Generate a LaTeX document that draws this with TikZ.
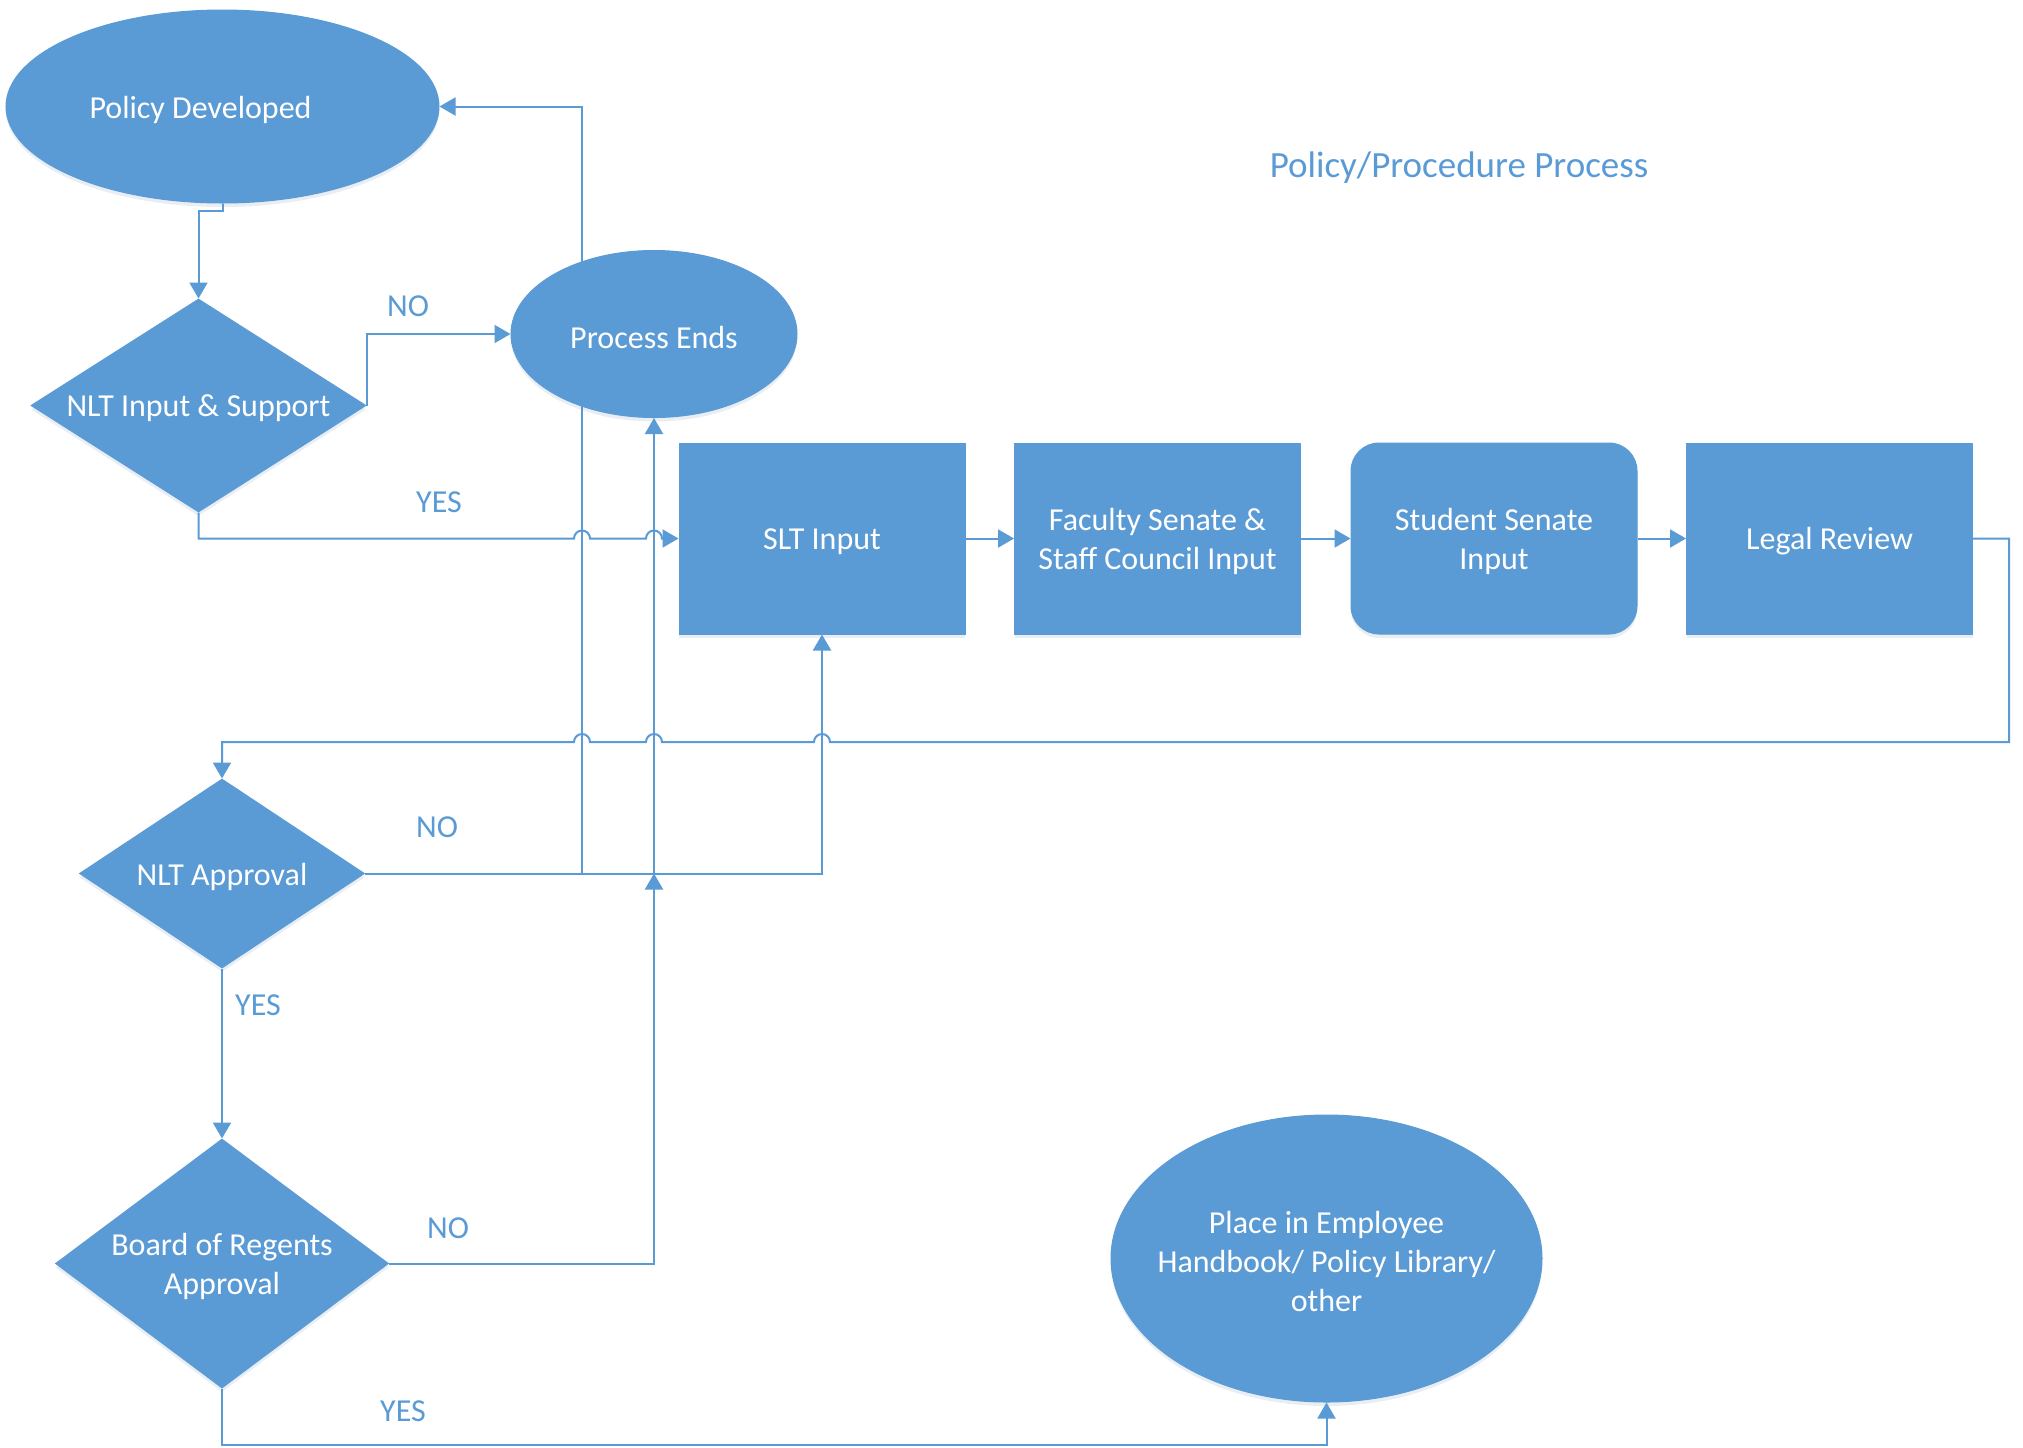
\documentclass[tikz,border=0pt]{standalone}
\usepackage{fontspec}
\setmainfont{Carlito}
\usetikzlibrary{shapes.geometric,arrows.meta,shadows,calc}
\definecolor{cblue}{RGB}{91,155,213}
\pgfdeclarelayer{back}
\pgfdeclarelayer{bg}
\pgfsetlayers{back,bg,main}
\begin{document}
\begin{tikzpicture}[x=0.5pt,y=-0.5pt,
  shp/.style={fill=cblue, draw=cblue, line width=0.5pt, inner sep=0pt,
    drop shadow={shadow xshift=0pt, shadow yshift=-2pt, opacity=0.15, fill=cblue!60!gray}},
  txt/.style={text=white, align=center, yshift=-1.5pt, font=\fontsize{16}{19.4}\selectfont},
  ell/.style={shp, ellipse},
  dia/.style={shp, diamond},
  box/.style={shp, rectangle, minimum width=143pt, minimum height=95.5pt},
  conn/.style={draw=cblue, line width=1pt, -{Triangle[length=8pt,width=9pt]}},
  lbl/.style={text=cblue, font=\fontsize{16}{19.4}\selectfont},
]
\begin{pgfonlayer}{back}
\fill[white] (0,0) rectangle (2023,1447);
\end{pgfonlayer}
\useasboundingbox (0,0) rectangle (2023,1447);

% shapes
\node[ell, minimum width=216.5pt, minimum height=96.5pt, label={[txt,xshift=-11pt]center:Policy Developed}] (pd) at (222.5,106.5) {};
\node[ell, minimum width=143pt, minimum height=83.5pt, label={[txt]center:Process Ends}] (pe) at (654,334) {};
\node[dia, minimum width=167.5pt, minimum height=106.5pt, label={[txt]center:NLT Input \& Support}] (nlt) at (198.5,405.5) {};
\node[box, label={[txt]center:SLT Input}] (slt) at (822,538.5) {};
\node[box, label={[txt]center:Faculty Senate \&\\Staff Council Input}] (fac) at (1157.5,538.5) {};
\node[box, rounded corners=14pt, label={[txt]center:Student Senate\\Input}] (ss) at (1494,538.5) {};
\node[box, label={[txt]center:Legal Review}] (lr) at (1829.5,538.5) {};
\node[dia, minimum width=142.5pt, minimum height=94.5pt, label={[txt]center:NLT Approval}] (na) at (222,873.5) {};
\node[dia, minimum width=166.5pt, minimum height=124.5pt, label={[txt]center:Board of Regents\\Approval}] (bor) at (222,1263.5) {};
\node[ell, minimum width=215.5pt, minimum height=143.5pt, label={[txt]center:Place in Employee\\Handbook/ Policy Library/\\other}] (pl) at (1326.5,1258.5) {};

% title and labels
\node[text=cblue, font=\fontsize{18.5}{22}\selectfont] (title) at (1459,168) {Policy/Procedure Process};
\node[lbl] (no1) at (408,306) {NO};
\node[lbl] (yes1) at (439,502) {YES};
\node[lbl] (no2) at (437,827) {NO};
\node[lbl] (yes2) at (258,1005) {YES};
\node[lbl] (no3) at (448,1228) {NO};
\node[lbl] (yes3) at (403,1411) {YES};

% connectors
\begin{pgfonlayer}{bg}
\coordinate (jA) at (582,106.5);
\coordinate (rc) at (2009,742);
\coordinate (yb) at (0,1445);
\draw[conn] (pd.south) -- ++(0,7) -| (nlt.north);
\draw[conn] (nlt.east) |- (pe.west);
\draw[conn] (nlt.south) |- ([xshift=-4pt]jA |- slt.west)
   arc[start angle=180,end angle=0,radius=4pt] -- ([xshift=-4pt]pe.south |- slt.west)
   arc[start angle=180,end angle=0,radius=4pt] -- (slt.west);
\draw[conn] (slt.east) -- (fac.west);
\draw[conn] (fac.east) -- (ss.west);
\draw[conn] (ss.east) -- (lr.west);
\draw[conn] (lr.east) -| (rc) -- ([xshift=4pt]slt.south |- rc)
   arc[start angle=0,end angle=180,radius=4pt] -- ([xshift=4pt]pe.south |- rc)
   arc[start angle=0,end angle=180,radius=4pt] -- ([xshift=4pt]jA |- rc)
   arc[start angle=0,end angle=180,radius=4pt] -| (na.north);
\draw[conn] (na.east) -| (jA) -- (pd.east);
\draw[conn] (na.east) -| (pe.south);
\draw[conn] (na.east) -| (slt.south);
\draw[conn] (na.south) -- (bor.north);
\draw[conn] (bor.east) -| (pe.south |- na.east);
\draw[conn] (bor.south) -- (bor.south |- yb) -| (pl.south);
\end{pgfonlayer}
\end{tikzpicture}
\end{document}
